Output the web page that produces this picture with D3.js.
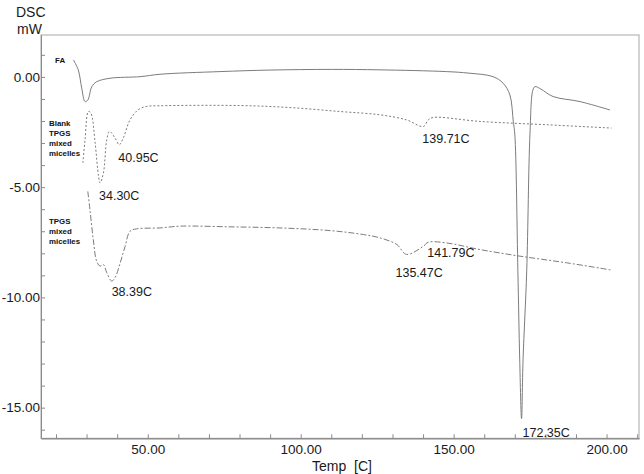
<!DOCTYPE html>
<html>
<head>
<meta charset="utf-8">
<script src="https://cdn.jsdelivr.net/npm/d3@7/dist/d3.min.js"></script>
<style>
  html, body { margin: 0; padding: 0; background: #fff; }
  svg { display: block; font-family: "Liberation Sans", Arial, sans-serif; }
</style>
</head>
<body>
<svg id="chart" width="644" height="474"></svg>
<script>
// ---- data (temperature in C, heat flow in mW) ----
const faTemp = [25.7,27.3,28.4,29.5,30.4,31.7,33.3,37.7,47.5,54.0,73.6,90.0,110,125.9,147.7,155,162.9,166.2,168.4,169.5,170.0,171.0,171.6,172.2,172.7,173.9,174.95,175.9,176.6,178.5,182.5,191.3,201.1];
const faDsc  = [0.77,0.31,-0.50,-1.12,-1.05,-0.45,-0.22,-0.06,0.01,0.12,0.24,0.31,0.34,0.32,0.24,0.17,0.01,-0.29,-0.82,-2.03,-2.6,-8.77,-12.8,-15.5,-12.8,-8.77,-2.6,-0.6,-0.44,-0.55,-0.89,-1.12,-1.50];

const blankTemp = [28.8,29.5,30.6,31.4,32.8,33.9,34.4,35.5,36.6,37.5,39.3,40.7,42.0,44.2,46.9,49.7,54.0,80.2,96.5,112.8,125.9,134.6,140.1,141.7,143.3,158.6,180.4,201.6];
const blankDsc  = [-3.9,-2.85,-1.57,-1.64,-3.0,-4.51,-4.81,-4.36,-2.85,-2.47,-2.77,-3.08,-2.77,-1.95,-1.49,-1.34,-1.31,-1.3,-1.39,-1.57,-1.72,-1.95,-2.25,-1.95,-1.84,-2.02,-2.17,-2.32];

const tpgsTemp = [30.4,31.1,32.2,33.3,34.4,35.5,36.6,38.2,39.3,41.0,42.6,44.2,46.4,54.0,60.6,76.9,93.2,109.6,120.5,125.9,131.4,134.6,140.1,141.7,147.7,158.6,171.7,186.9,201.6];
const tpgsDsc  = [-5.19,-6.02,-7.38,-8.36,-8.58,-8.51,-8.88,-9.26,-9.11,-8.43,-7.68,-7.0,-6.89,-6.85,-6.77,-6.8,-6.85,-6.97,-7.15,-7.3,-7.6,-8.05,-7.68,-7.5,-7.53,-7.83,-8.13,-8.43,-8.76];

const seriesNames = [["FA"], ["Blank","TPGS","mixed","micelles"], ["TPGS","mixed","micelles"]];
const peakLabels = ["34.30C","40.95C","38.39C","139.71C","135.47C","141.79C","172.35C"];
const peakTemps  = [34.4, 40.7, 38.2, 140.1, 134.6, 141.7, 172.2];
const peakDsc    = [-4.81, -3.08, -9.26, -2.25, -8.05, -7.5, -15.5];

const xMajor = [50, 100, 150, 200];
const xMinor = [20,30,40,60,70,80,90,110,120,130,140,160,170,180,190,210];
const yMajor = [0, -5, -10, -15];
const yMinor = [1,-1,-2,-3,-4,-6,-7,-8,-9,-11,-12,-13,-14,-16];

// ---- layout ----
const svg = d3.select("#chart");
const L = 41, R = 639, T = 35, B = 438.3;
const x = d3.scaleLinear().domain([15.1, 210.6]).range([L, R]);
const y = d3.scaleLinear().domain([-16.39, 1.9]).range([B, T]);
const axisColor = "#8a8a8a";
const lineColor = "#7c7c7c";

// frame
svg.append("rect").attr("x", L).attr("y", T).attr("width", R - L).attr("height", B - T)
  .attr("fill", "none").attr("stroke", "#a8a8a8").attr("stroke-width", 1);

// axes
function styleAxis(g) {
  g.select(".domain").attr("stroke", axisColor);
  g.selectAll(".tick line").attr("stroke", axisColor);
  g.selectAll("text").attr("fill", "#1a1a1a").attr("font-size", "13.5px");
}
const gx = svg.append("g").attr("transform", `translate(0,${B})`)
  .call(d3.axisBottom(x).tickValues(xMajor).tickFormat(d3.format(".2f")).tickSize(-4).tickPadding(6).tickSizeOuter(0));
styleAxis(gx);
const gxm = svg.append("g").attr("transform", `translate(0,${B})`)
  .call(d3.axisBottom(x).tickValues(xMinor).tickFormat("").tickSize(-4).tickSizeOuter(0));
styleAxis(gxm);
const gy = svg.append("g").attr("transform", `translate(${L},0)`)
  .call(d3.axisLeft(y).tickValues(yMajor).tickFormat(d3.format(".2f")).tickSize(-4).tickPadding(1).tickSizeOuter(0));
styleAxis(gy);
const gym = svg.append("g").attr("transform", `translate(${L},0)`)
  .call(d3.axisLeft(y).tickValues(yMinor).tickFormat("").tickSize(-4).tickSizeOuter(0));
styleAxis(gym);
gy.selectAll("text").text(d => d3.format(".2f")(d).replace("−", "-"));

// axis titles
svg.append("text").attr("x", 16).attr("y", 17).attr("font-size", "14px").attr("fill", "#1a1a1a").text("DSC");
svg.append("text").attr("x", 17).attr("y", 33.5).attr("font-size", "14px").attr("fill", "#1a1a1a").text("mW");
svg.append("text").attr("x", 342).attr("y", 471).attr("text-anchor", "middle").attr("font-size", "14px")
  .attr("fill", "#1a1a1a").style("white-space", "pre").text("Temp  [C]");

// curves
const curves = [
  { t: faTemp, v: faDsc, dash: null },
  { t: blankTemp, v: blankDsc, dash: "2,2" },
  { t: tpgsTemp, v: tpgsDsc, dash: "6,2,2,2" }
];
curves.forEach(c => {
  const pts = c.t.map((t, i) => [t, c.v[i]]);
  svg.append("path").datum(pts).attr("d", d3.line().x(d => x(d[0])).y(d => y(d[1])).curve(d3.curveCatmullRom.alpha(0.5)))
    .attr("fill", "none").attr("stroke", lineColor).attr("stroke-width", 1)
    .attr("stroke-dasharray", c.dash);
});

// series labels
const seriesPos = [[55, 62.5], [49, 125.7], [49, 224.3]];
seriesNames.forEach((lines, i) => {
  const t = svg.append("text").attr("x", seriesPos[i][0]).attr("y", seriesPos[i][1])
    .attr("font-size", "7.9px").attr("font-weight", "bold").attr("fill", "#111");
  lines.forEach((s, j) => t.append("tspan").attr("x", seriesPos[i][0]).attr("dy", j === 0 ? 0 : 10).text(s));
});

// peak labels (offsets from the peak point)
const peakOff = [[-1, 8], [-1, 8], [0, 6], [-1, 8], [-11, 14], [-1, 6], [1, 10]];
peakLabels.forEach((s, i) => {
  svg.append("text").attr("x", x(peakTemps[i]) + peakOff[i][0]).attr("y", y(peakDsc[i]) + peakOff[i][1])
    .attr("dominant-baseline", "hanging").attr("font-size", "12.5px").attr("fill", "#1a1a1a").text(s);
});
</script>
</body>
</html>
